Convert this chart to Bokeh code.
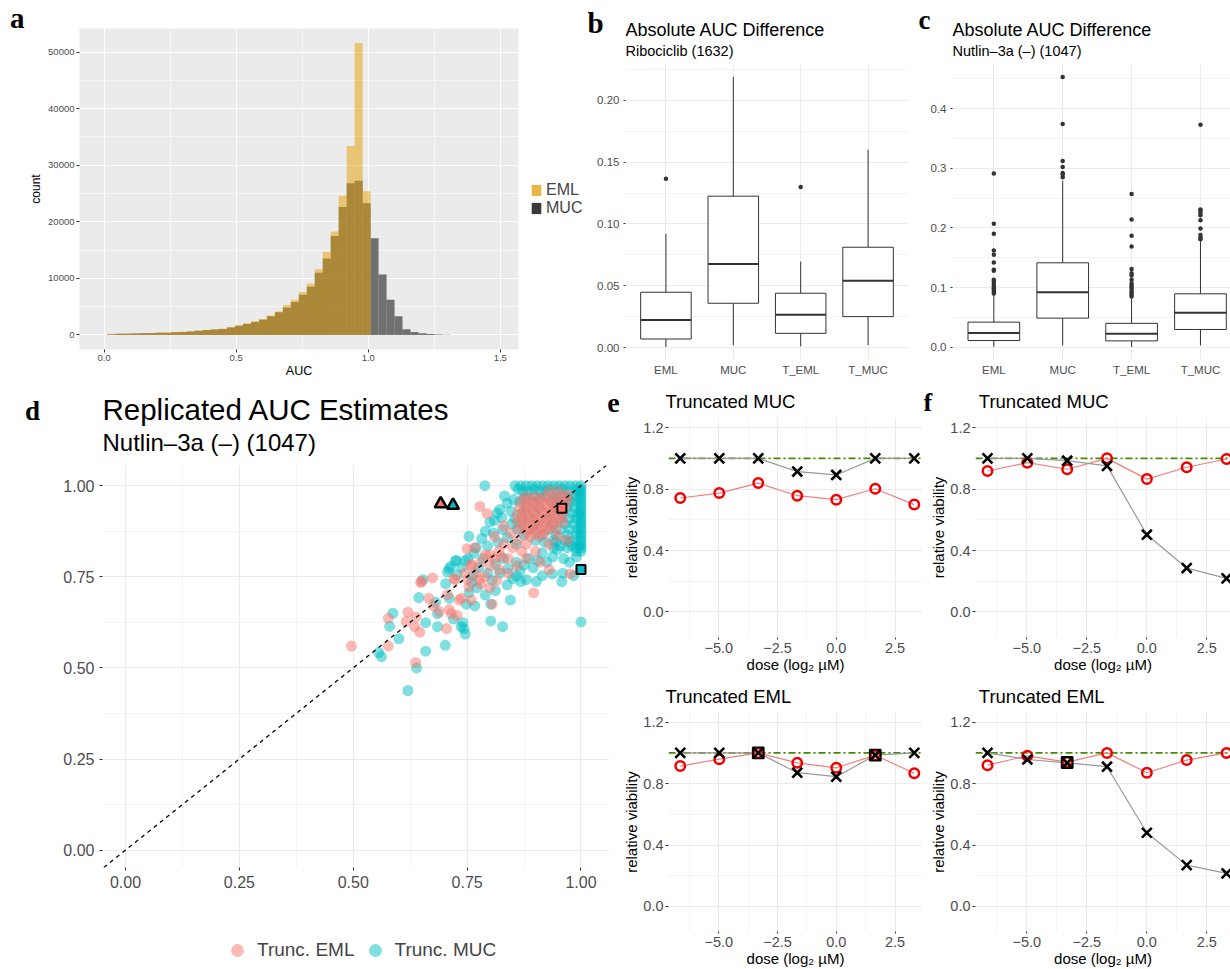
import numpy as np
from bokeh.plotting import figure
from bokeh.layouts import row, column
from bokeh.models import (Range1d, FixedTicker, Label, Legend, LegendItem, Span, Slope,
                          NumeralTickFormatter)
from bokeh.embed import file_html
from bokeh.resources import INLINE

SANS = "Liberation Sans"
SERIF = "Liberation Serif"
TICK_GREY = "#4D4D4D"
DARK = "#333333"
SALMON = "#F8766D"
TEAL = "#00BFC4"

# ---------------- a: AUC histograms (counts per bin) ----------------
auc_bin_start = 0.0124
auc_bin_width = 0.0302
eml_counts = [150, 220, 240, 270, 300, 330, 380, 420, 500, 550, 650, 750, 880, 1000, 1100,
              1400, 1700, 2050, 2400, 2800, 3450, 4150, 5300, 6200, 7600, 9100, 11600,
              14700, 18300, 24600, 33400, 51600, 25400]
muc_counts = [100, 200, 220, 250, 280, 320, 360, 400, 480, 530, 620, 720, 850, 950, 1050,
              1300, 1600, 1950, 2300, 2700, 3300, 4000, 4850, 5800, 7100, 8500, 11000,
              13500, 17500, 22600, 26800, 27250, 23300, 17100, 10700, 6200, 3300, 1000,
              500, 300, 150, 80, 40]

# ---------------- b, c: absolute AUC difference box plots ----------------
box_groups = ["EML", "MUC", "T_EML", "T_MUC"]

ribo_lo = [0.0005, 0.0020, 0.0010, 0.0020]
ribo_q1 = [0.0070, 0.0359, 0.0116, 0.0251]
ribo_med = [0.0224, 0.0677, 0.0265, 0.0540]
ribo_q3 = [0.0448, 0.1225, 0.0440, 0.0812]
ribo_hi = [0.0920, 0.2189, 0.0696, 0.1600]
ribo_outliers = [[0.1366], [], [0.130], []]

nut_lo = [0.0003, 0.0030, 0.0003, 0.0030]
nut_q1 = [0.0112, 0.0487, 0.0106, 0.0297]
nut_med = [0.0240, 0.0923, 0.0224, 0.0576]
nut_q3 = [0.0420, 0.1415, 0.0400, 0.0895]
nut_hi = [0.0880, 0.2790, 0.0830, 0.1780]
nut_outliers = [
    [0.090, 0.093, 0.096, 0.099, 0.102, 0.106, 0.110, 0.113, 0.128, 0.130, 0.142, 0.155,
     0.162, 0.190, 0.207, 0.291],
    [0.285, 0.290, 0.292, 0.302, 0.312, 0.374, 0.453],
    [0.085, 0.088, 0.091, 0.094, 0.098, 0.101, 0.104, 0.107, 0.113, 0.120, 0.124, 0.131,
     0.169, 0.187, 0.214, 0.257],
    [0.181, 0.184, 0.188, 0.199, 0.213, 0.221, 0.225, 0.229, 0.231, 0.373],
]

# ---------------- d: replicated AUC estimates (replicate 1, replicate 2) ----------------
muc_points = [
    (0.620, 0.438), (0.556, 0.542), (0.562, 0.531), (0.600, 0.580), (0.580, 0.614), (0.587, 0.650),
    (0.639, 0.500), (0.659, 0.546), (0.702, 0.562), (0.659, 0.624), (0.644, 0.693), (0.653, 0.742),
    (0.681, 0.680), (0.685, 0.649), (0.685, 0.613), (0.711, 0.691), (0.703, 0.731), (0.720, 0.634),
    (0.737, 0.613), (0.743, 0.608), (0.746, 0.593), (0.741, 0.624), (0.707, 0.763), (0.714, 0.778),
    (0.724, 0.794), (0.710, 0.772), (0.727, 0.795), (0.746, 0.794), (0.763, 0.753), (0.754, 0.706),
    (0.748, 0.675), (0.767, 0.670), (0.754, 0.861), (0.789, 1.000), (0.816, 0.925), (0.802, 0.675),
    (0.802, 0.629), (0.828, 0.613), (0.845, 0.686), (1.000, 0.626), (0.984, 0.753), (0.958, 0.737),
    (0.937, 0.758), (0.915, 0.753), (0.902, 0.737), (0.880, 0.742), (0.868, 0.737), (0.960, 0.760),
    (0.760, 0.735), (0.775, 0.775), (0.785, 0.800), (0.795, 0.760), (0.805, 0.740), (0.812, 0.785),
    (0.822, 0.760), (0.830, 0.800), (0.840, 0.772), (0.850, 0.745), (0.858, 0.790), (0.866, 0.765),
    (0.875, 0.782), (0.885, 0.800), (0.895, 0.775), (0.905, 0.795), (0.915, 0.815), (0.925, 0.790),
    (0.938, 0.805), (0.948, 0.825), (0.962, 0.800), (0.975, 0.790), (0.990, 0.805), (0.770, 0.830),
    (0.782, 0.855), (0.795, 0.835), (0.808, 0.870), (0.818, 0.845), (0.828, 0.880), (0.838, 0.858),
    (0.848, 0.895), (0.858, 0.840), (0.800, 0.900), (0.790, 0.875), (0.765, 0.815), (0.752, 0.800),
    (0.738, 0.775), (0.728, 0.755), (0.772, 0.720), (0.790, 0.700), (0.812, 0.712), (0.838, 0.728),
    (0.858, 0.752), (0.822, 0.935), (0.838, 0.952), (0.832, 0.972), (0.846, 0.930), (0.852, 0.962),
    (0.810, 0.905), (0.826, 0.912),
    (0.855, 1.000), (0.868, 1.000), (0.880, 1.000), (0.892, 1.000), (0.904, 1.000), (0.916, 1.000),
    (0.928, 1.000), (0.940, 1.000), (0.952, 1.000), (0.964, 1.000), (0.976, 1.000), (0.988, 1.000),
    (1.000, 1.000), (0.862, 0.990), (0.897, 0.990), (0.930, 0.990), (0.958, 0.990), (0.990, 0.990),
    (0.872, 0.985), (0.885, 0.985), (0.910, 0.985), (0.922, 0.985), (0.948, 0.985), (0.972, 0.985),
    (0.995, 0.985), (1.000, 0.985), (0.880, 0.970), (0.900, 0.970), (0.920, 0.970), (0.945, 0.970),
    (0.965, 0.970), (0.980, 0.970), (0.992, 0.970), (1.000, 0.970), (0.875, 0.965), (0.910, 0.965),
    (0.940, 0.965), (0.972, 0.965), (0.865, 0.955), (0.895, 0.955), (0.935, 0.955), (0.955, 0.955),
    (0.975, 0.955), (0.990, 0.955), (1.000, 0.955), (0.880, 0.940), (0.910, 0.940), (0.945, 0.940),
    (0.970, 0.940), (0.985, 0.940), (1.000, 0.940), (0.870, 0.925), (0.900, 0.925), (0.935, 0.925),
    (0.960, 0.925), (0.980, 0.925), (0.995, 0.925), (1.000, 0.925), (0.855, 0.910), (0.885, 0.910),
    (0.925, 0.910), (0.955, 0.910), (0.975, 0.910), (0.990, 0.910), (1.000, 0.910), (0.870, 0.895),
    (0.905, 0.895), (0.940, 0.895), (0.965, 0.895), (0.985, 0.895), (1.000, 0.895), (0.860, 0.880),
    (0.895, 0.880), (0.930, 0.880), (0.955, 0.880), (0.975, 0.880), (0.992, 0.880), (1.000, 0.880),
    (0.875, 0.865), (0.915, 0.865), (0.945, 0.865), (0.970, 0.865), (0.990, 0.865), (1.000, 0.865),
    (0.900, 0.850), (0.940, 0.850), (0.965, 0.850), (0.985, 0.850), (1.000, 0.850), (0.920, 0.845),
    (0.945, 0.845), (0.975, 0.845), (0.955, 0.835), (0.980, 0.835), (0.995, 0.835), (1.000, 0.835),
    (0.940, 0.830), (0.970, 0.830), (0.990, 0.830), (0.990, 0.820), (1.000, 0.820),
    (1.000, 0.992), (1.000, 0.978), (1.000, 0.962), (1.000, 0.948), (1.000, 0.932), (1.000, 0.918),
    (1.000, 0.902), (1.000, 0.888), (1.000, 0.872), (1.000, 0.858), (1.000, 0.842), (1.000, 0.828),
]
eml_points = [
    (0.496, 0.560), (0.577, 0.636), (0.620, 0.653), (0.616, 0.627), (0.577, 0.560), (0.637, 0.515),
    (0.646, 0.598), (0.705, 0.608), (0.635, 0.613), (0.650, 0.737), (0.674, 0.747), (0.666, 0.691),
    (0.676, 0.670), (0.689, 0.655), (0.715, 0.649), (0.711, 0.660), (0.728, 0.644), (0.724, 0.742),
    (0.707, 0.701), (0.737, 0.691), (0.733, 0.686), (0.759, 0.686), (0.754, 0.722), (0.776, 0.742),
    (0.759, 0.784), (0.767, 0.830), (0.778, 0.943), (0.805, 0.675), (0.896, 0.706), (0.976, 0.758),
    (0.648, 0.735), (0.721, 0.745), (0.750, 0.827), (0.794, 0.923), (0.638, 0.640),
    (0.770, 0.760), (0.780, 0.790), (0.790, 0.810), (0.800, 0.780), (0.810, 0.800), (0.820, 0.820),
    (0.830, 0.840), (0.840, 0.800), (0.850, 0.830), (0.860, 0.850), (0.870, 0.820), (0.880, 0.840),
    (0.790, 0.750), (0.800, 0.720), (0.820, 0.770), (0.840, 0.760), (0.860, 0.780), (0.880, 0.800),
    (0.900, 0.820), (0.910, 0.790), (0.930, 0.840), (0.950, 0.860), (0.970, 0.850), (0.810, 0.860),
    (0.830, 0.890), (0.800, 0.810), (0.760, 0.780), (0.745, 0.760), (0.752, 0.742), (0.780, 0.730),
    (0.930, 0.770), (0.815, 0.740), (0.845, 0.870), (0.825, 0.805),
    (0.930, 0.985), (0.950, 0.985), (0.970, 0.975),
    (0.880, 0.970), (0.900, 0.970), (0.920, 0.970), (0.940, 0.970), (0.960, 0.970),
    (0.870, 0.960), (0.890, 0.960), (0.910, 0.960), (0.930, 0.960), (0.950, 0.960), (0.970, 0.960),
    (0.880, 0.950), (0.900, 0.950), (0.920, 0.950), (0.940, 0.950), (0.960, 0.950),
    (0.865, 0.940), (0.885, 0.940), (0.905, 0.940), (0.925, 0.940), (0.945, 0.940), (0.965, 0.940),
    (0.875, 0.930), (0.895, 0.930), (0.915, 0.930), (0.935, 0.930), (0.955, 0.930),
    (0.860, 0.920), (0.880, 0.920), (0.900, 0.920), (0.920, 0.920), (0.940, 0.920), (0.960, 0.920),
    (0.870, 0.910), (0.890, 0.910), (0.910, 0.910), (0.930, 0.910), (0.950, 0.910),
    (0.860, 0.900), (0.880, 0.900), (0.900, 0.900), (0.920, 0.900), (0.940, 0.900), (0.960, 0.900),
    (0.875, 0.890), (0.895, 0.890), (0.915, 0.890), (0.935, 0.890),
    (0.865, 0.880), (0.885, 0.880), (0.905, 0.880), (0.925, 0.880), (0.945, 0.880),
    (0.880, 0.870), (0.900, 0.870), (0.920, 0.870), (0.890, 0.860), (0.910, 0.860),
]
# highlighted cell lines: triangles (panel f), squares (panel e); EML then MUC
tri_x = [0.692, 0.719]
tri_y = [0.950, 0.946]
sq_x = [0.958, 1.000]
sq_y = [0.938, 0.770]

# ---------------- e, f: dose-response curves ----------------
dose_log2 = [-6.64, -4.98, -3.32, -1.66, 0.0, 1.66, 3.32]
viability_ref = 1.0
e_muc_rep1 = [1.0, 1.0, 1.0, 0.914, 0.892, 1.0, 1.0]
e_muc_rep2 = [0.742, 0.774, 0.839, 0.757, 0.731, 0.802, 0.699]
f_muc_rep1 = [1.0, 1.0, 0.985, 0.951, 0.503, 0.286, 0.219]
f_muc_rep2 = [0.918, 0.972, 0.929, 1.0, 0.865, 0.942, 0.996]
e_eml_rep1 = [1.0, 1.0, 1.0, 0.871, 0.845, 0.985, 1.0]
e_eml_rep2 = [0.914, 0.959, 1.0, 0.935, 0.903, 0.985, 0.867]
f_eml_rep1 = [1.0, 0.957, 0.935, 0.910, 0.480, 0.269, 0.215]
f_eml_rep2 = [0.920, 0.981, 0.940, 1.0, 0.871, 0.953, 1.0]
e_eml_trunc = [2, 5]
f_eml_trunc = [2]

NO_MARK = [np.nan]  # legend-key carriers: one row, nothing drawn on the canvas


def make_panel(width, height, left, right, top, bottom, xr, yr, bg="white"):
    p = figure(width=width, height=height, x_range=Range1d(*xr), y_range=Range1d(*yr),
               output_backend="svg", toolbar_location=None,
               min_border_left=left, min_border_right=right,
               min_border_top=top, min_border_bottom=bottom)
    p.background_fill_color = bg
    p.border_fill_color = "white"
    p.outline_line_color = None
    for ax in (p.xaxis[0], p.yaxis[0]):
        ax.axis_line_color = None
        ax.major_tick_line_color = DARK
        ax.major_tick_in = 0
        ax.major_tick_out = 3
        ax.minor_tick_line_color = None
        ax.major_label_text_color = TICK_GREY
        ax.major_label_text_font = SANS
        ax.major_label_standoff = 2
        ax.axis_label_text_font = SANS
        ax.axis_label_text_font_style = "normal"
        ax.axis_label_text_color = "black"
    return p


def text_strip(width, height):
    # blank strip whose frame fills the canvas; data units are pixels from the top-left
    p = figure(width=width, height=height, x_range=Range1d(0, width), y_range=Range1d(height, 0),
               x_axis_type=None, y_axis_type=None, output_backend="svg", toolbar_location=None,
               min_border_left=0, min_border_right=0, min_border_top=0, min_border_bottom=0)
    p.outline_line_color = None
    p.background_fill_color = "white"
    p.border_fill_color = "white"
    return p


def solo(p):
    # own container, so the strip frames are not lined up with the plot frames
    return row(p)


def set_grid(p, xt, xm, yt, ym, color, major_w, minor_w):
    p.xaxis.ticker = FixedTicker(ticks=xt, minor_ticks=xm)
    p.yaxis.ticker = FixedTicker(ticks=yt, minor_ticks=ym)
    for g in (p.xgrid[0], p.ygrid[0]):
        g.grid_line_color = color
        g.grid_line_width = major_w
        g.minor_grid_line_color = color
        g.minor_grid_line_width = minor_w


BASE_SHIFT = 0.36  # alphabetic baseline offset of Label text, in em


def put(p, x, baseline, txt, size, font=SANS, style="normal", color="black"):
    p.add_layout(Label(x=x, y=baseline - BASE_SHIFT * size, text=txt, text_font=font,
                       text_font_size=f"{size}px", text_font_style=style, text_color=color,
                       text_baseline="alphabetic"))


def letter(p, x, baseline, txt, size=28):
    put(p, x, baseline, txt, size, font=SERIF, style="bold")


# ---------------- panel a ----------------
a_strip = text_strip(26, 380)
letter(a_strip, 9.6, 27.6, "a", 29)

pa = make_panel(494, 380, 49, 2, 28, 29, (-0.0934, 1.569), (-2580, 54180), bg="#EBEBEB")
set_grid(pa, [0, 0.5, 1.0, 1.5], [0.25, 0.75, 1.25],
         [0, 10000, 20000, 30000, 40000, 50000],
         [5000, 15000, 25000, 35000, 45000], "white", 1.1, 0.55)
pa.xaxis.formatter = NumeralTickFormatter(format="0.0")
pa.yaxis.formatter = NumeralTickFormatter(format="0")
for ax in (pa.xaxis[0], pa.yaxis[0]):
    ax.major_label_text_font_size = "9.5px"
    ax.major_tick_out = 3
    ax.major_label_standoff = 1
pa.yaxis.axis_label = "count"
pa.yaxis.axis_label_text_font_size = "12px"
pa.yaxis.axis_label_standoff = 2
pa.xaxis.axis_label = "AUC"
pa.xaxis.axis_label_text_font_size = "12.5px"
pa.xaxis.axis_label_standoff = 0

edges = auc_bin_start + auc_bin_width * np.arange(len(muc_counts) + 1)
n_eml = len(eml_counts)
pa.quad(left=edges[:-1], right=edges[1:], bottom=0, top=muc_counts,
        fill_color=DARK, fill_alpha=0.67, line_color=None)
pa.quad(left=edges[:n_eml], right=edges[1:n_eml + 1], bottom=0, top=eml_counts,
        fill_color="#E69F00", fill_alpha=0.5, line_color=None)

a_leg = text_strip(65, 380)
key_eml = a_leg.quad(left=NO_MARK, right=NO_MARK, top=NO_MARK, bottom=NO_MARK,
                     fill_color="#EAB547", line_color=None)
key_muc = a_leg.quad(left=NO_MARK, right=NO_MARK, top=NO_MARK, bottom=NO_MARK,
                     fill_color="#3A3A3A", line_color=None)
a_leg.add_layout(Legend(items=[LegendItem(label="EML", renderers=[key_eml]),
                               LegendItem(label="MUC", renderers=[key_muc])],
                        location=(10, 163), glyph_width=12, glyph_height=14, label_height=14,
                        label_standoff=4, spacing=0, padding=0, margin=0,
                        background_fill_alpha=0, border_line_color=None,
                        label_text_font=SANS, label_text_font_size="16px"))


# ---------------- panels b, c ----------------
def draw_boxes(p, lo, q1, med, q3, hi, outliers):
    xs = list(range(1, len(box_groups) + 1))
    half = 0.375
    p.segment(x0=xs, y0=q3, x1=xs, y1=hi, line_color=DARK, line_width=1)
    p.segment(x0=xs, y0=lo, x1=xs, y1=q1, line_color=DARK, line_width=1)
    p.vbar(x=xs, width=2 * half, bottom=q1, top=q3, fill_color="white",
           line_color=DARK, line_width=1)
    p.segment(x0=[x - half for x in xs], y0=med, x1=[x + half for x in xs], y1=med,
              line_color=DARK, line_width=2)
    ox = [i + 1 for i, grp in enumerate(outliers) for _ in grp]
    oy = [v for grp in outliers for v in grp]
    p.scatter(ox, oy, size=4.5, fill_color=DARK, line_color=None)


def style_box_axes(p, yt, ym, fmt):
    set_grid(p, [1, 2, 3, 4], [], yt, ym, "#EBEBEB", 1.1, 0.6)
    p.yaxis.formatter = NumeralTickFormatter(format=fmt)
    p.xaxis.major_label_overrides = {i + 1: g for i, g in enumerate(box_groups)}
    for ax in (p.xaxis[0], p.yaxis[0]):
        ax.major_label_text_font_size = "11.5px"
    p.xaxis.major_tick_out = 0
    p.xaxis.major_label_standoff = 3
    p.yaxis.major_tick_out = 2
    p.yaxis.major_label_standoff = 2


b_head = text_strip(327, 61)
letter(b_head, 2, 33, "b", 29)
put(b_head, 40, 36, "Absolute AUC Difference", 18)
put(b_head, 40, 56, "Ribociclib (1632)", 14.5)
pb = make_panel(327, 319, 40, 4, 2, 20, (0.4, 4.6), (-0.0104, 0.2298))
style_box_axes(pb, [0, 0.05, 0.10, 0.15, 0.20], [0.025, 0.075, 0.125, 0.175, 0.225], "0.00")
draw_boxes(pb, ribo_lo, ribo_q1, ribo_med, ribo_q3, ribo_hi, ribo_outliers)

c_head = text_strip(318, 61)
letter(c_head, 6, 29.5, "c", 27)
put(c_head, 40, 36, "Absolute AUC Difference", 18)
put(c_head, 40, 56, "Nutlin\u20133a (\u2013) (1047)", 14.5)
pc = make_panel(318, 319, 40, 0, 2, 20, (0.4, 4.436), (-0.0223, 0.4756))
style_box_axes(pc, [0, 0.1, 0.2, 0.3, 0.4], [0.05, 0.15, 0.25, 0.35, 0.45], "0.0")
draw_boxes(pc, nut_lo, nut_q1, nut_med, nut_q3, nut_hi, nut_outliers)

# ---------------- panel d ----------------
d_head = text_strip(620, 82)
letter(d_head, 24.5, 40.6, "d", 27)
put(d_head, 102, 39.4, "Replicated AUC Estimates", 29.5)
put(d_head, 102, 70.6, "Nutlin\u20133a (\u2013) (1047)", 24)
letter(d_head, 606.7, 33, "e", 28)

pd_ = make_panel(620, 443, 102, 11, 3, 38, (-0.0505, 1.0626), (-0.0477, 1.0554))
set_grid(pd_, [0, 0.25, 0.5, 0.75, 1.0], [0.125, 0.375, 0.625, 0.875],
         [0, 0.25, 0.5, 0.75, 1.0], [0.125, 0.375, 0.625, 0.875], "#EBEBEB", 1.2, 0.6)
pd_.xaxis.formatter = NumeralTickFormatter(format="0.00")
pd_.yaxis.formatter = NumeralTickFormatter(format="0.00")
for ax in (pd_.xaxis[0], pd_.yaxis[0]):
    ax.major_label_text_font_size = "16px"
    ax.major_label_standoff = 4

muc_x, muc_y = [list(v) for v in zip(*muc_points)]
eml_x, eml_y = [list(v) for v in zip(*eml_points)]
pd_.scatter(muc_x, muc_y, size=11, fill_color=TEAL, fill_alpha=0.5, line_color=None)
pd_.scatter(eml_x, eml_y, size=11, fill_color=SALMON, fill_alpha=0.5, line_color=None)
pd_.add_layout(Slope(gradient=1, y_intercept=0, line_color="black", line_dash="4 4",
                     line_width=1.3))
pd_.scatter(tri_x, tri_y, marker="triangle", size=12, fill_color=[SALMON, TEAL],
            line_color="black", line_width=2.5)
pd_.scatter(sq_x, sq_y, marker="square", size=9, fill_color=[SALMON, TEAL],
            line_color="black", line_width=2)

d_foot = text_strip(620, 64)
key_d_eml = d_foot.scatter(NO_MARK, NO_MARK, size=11, fill_color=SALMON, fill_alpha=0.5,
                           line_color=None)
key_d_muc = d_foot.scatter(NO_MARK, NO_MARK, size=11, fill_color=TEAL, fill_alpha=0.5,
                           line_color=None)
d_foot.add_layout(Legend(items=[LegendItem(label="Trunc. EML", renderers=[key_d_eml]),
                                LegendItem(label="Trunc. MUC", renderers=[key_d_muc])],
                         location=(221, 3), orientation="horizontal",
                         glyph_width=32, glyph_height=32, label_standoff=4, spacing=4,
                         padding=0, margin=0, background_fill_alpha=0, border_line_color=None,
                         label_text_font=SANS, label_text_font_size="19px"))


# ---------------- panels e, f ----------------
def dose_panel(width, height, left, top, bottom, xr, yr, rep1, rep2, trunc):
    p = make_panel(width, height, left, 0, top, bottom, xr, yr)
    set_grid(p, [-5, -2.5, 0, 2.5], [-6.25, -3.75, -1.25, 1.25, 3.75],
             [0, 0.4, 0.8, 1.2], [0.2, 0.6, 1.0], "#EBEBEB", 1.1, 0.6)
    p.yaxis.formatter = NumeralTickFormatter(format="0.0")
    p.xaxis.major_label_overrides = {-5: "\u22125.0", -2.5: "\u22122.5", 0: "0.0", 2.5: "2.5"}
    for ax in (p.xaxis[0], p.yaxis[0]):
        ax.major_label_text_font_size = "14.5px"
        ax.axis_label_text_font_size = "15px"
        ax.axis_label_standoff = 0
    p.yaxis.major_tick_out = 3
    p.yaxis.major_label_standoff = 1
    p.xaxis.major_tick_out = 2
    p.xaxis.major_label_standoff = 1
    p.yaxis.axis_label = "relative viability"
    p.xaxis.axis_label = "dose (log\u2082 \u00b5M)"

    p.line(dose_log2, rep2, line_color="#F08080", line_width=1.2)
    p.line(dose_log2, rep1, line_color="#999999", line_width=1.2)
    p.add_layout(Span(location=viability_ref, dimension="width", line_color="#458B00",
                      line_dash="7 3 2 3", line_width=1.6, level="underlay"))
    p.scatter(dose_log2, rep2, marker="circle", size=9.5, fill_color=None,
              line_color="#F00000", line_width=2.5)
    p.scatter(dose_log2, rep1, marker="x", size=14, line_color="black", line_width=2.6)
    if trunc:
        sx = [dose_log2[i] for i in trunc]
        sy = [(rep1[i] + rep2[i]) / 2 for i in trunc]
        p.scatter(sx, sy, marker="square", size=11, fill_color=None, line_color="black",
                  line_width=1.8)
    return p


et_head = text_strip(302, 37)
put(et_head, 45, 28, "Truncated MUC", 18.5)
pet = dose_panel(302, 258, 44, 0, 36, (-7.14, 3.67), (-0.166, 1.266), e_muc_rep1, e_muc_rep2, [])
eb_head = text_strip(302, 33)
put(eb_head, 45, 27.7, "Truncated EML", 18.5)
peb = dose_panel(302, 261, 44, 4, 36, (-7.14, 3.67), (-0.163, 1.263), e_eml_rep1, e_eml_rep2,
                 e_eml_trunc)

ft_head = text_strip(308, 37)
letter(ft_head, 1, 31, "f", 26)
put(ft_head, 56.3, 28, "Truncated MUC", 18.5)
pft = dose_panel(308, 258, 53, 0, 36, (-7.14, 3.485), (-0.166, 1.266), f_muc_rep1, f_muc_rep2, [])
fb_head = text_strip(308, 33)
put(fb_head, 56.3, 27.7, "Truncated EML", 18.5)
pfb = dose_panel(308, 261, 53, 4, 36, (-7.14, 3.485), (-0.163, 1.263), f_eml_rep1, f_eml_rep2,
                 f_eml_trunc)

top = row(row(solo(a_strip), solo(pa), solo(a_leg)),
          column(b_head, solo(pb)),
          column(c_head, solo(pc)))
bottom = row(column(d_head, solo(pd_), d_foot),
             column(et_head, solo(pet), eb_head, solo(peb)),
             column(ft_head, solo(pft), fb_head, solo(pfb)))
layout = column(top, bottom)

open("out.html", "w").write(file_html(layout, INLINE))
